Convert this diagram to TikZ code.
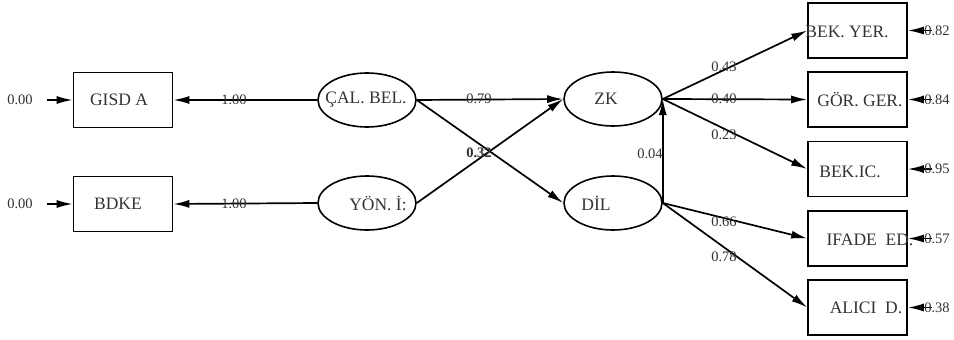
\documentclass[tikz,border=0pt]{standalone}
\usepackage{fontspec}
\setmainfont{Liberation Serif}
\usetikzlibrary{arrows.meta,shapes.geometric}
\definecolor{txt}{RGB}{50,50,50}
\tikzset{
  obs/.style={draw, line width=1.6pt, minimum width=99pt, minimum height=55pt, inner sep=0pt},
  lat/.style={draw, ellipse, line width=1.6pt, minimum width=98pt, minimum height=54pt, inner sep=0pt},
  vname/.style={text=txt, font=\fontsize{17.5}{17.5}\selectfont, inner sep=0pt},
  coef/.style={text=txt, font=\fontsize{14.5}{14.5}\selectfont, inner sep=0pt},
  pathline/.style={line width=1.7pt, -{Latex[length=16pt,width=8pt]}},
  errline/.style={line width=1.7pt, -{Latex[length=16pt,width=8pt]}}
}
\begin{document}
\begin{tikzpicture}[x=1pt,y=-1pt]
\useasboundingbox (0,0) rectangle (954,340);

% observed variables on the left
\node[obs] (gisd) at (123,100) {};
\node[obs] (bdke) at (123,204) {};
\node[vname] at (119,100) {GISD A};
\node[vname] at (118,204) {BDKE};

% latent variables
\node[lat] (cal) at (367,100) {};
\node[lat] (yon) at (367,203) {};
\node[lat] (zk)  at (613,99) {};
\node[lat] (dil) at (613,203) {};
\node[vname] at (366,100) {ÇAL. BEL.};
\node[vname] at (378,203) {YÖN. İ:};
\node[vname] at (606,99) {ZK};
\node[vname] at (596,203) {DİL};

% observed variables on the right
\node[obs] (bek)   at (857.5,30.5)  {};
\node[obs] (gor)   at (857.5,99.5)  {};
\node[obs] (bekic) at (857.5,169)   {};
\node[obs] (ifade) at (857.5,238.5) {};
\node[obs] (alici) at (857.5,307.5) {};
\node[vname] at (847,32)  {BEK. YER.};
\node[vname] at (860,100) {GÖR. GER.};
\node[vname] at (850,172) {BEK.IC.};
\node[vname] at (870,240) {IFADE\ \ ED.};
\node[vname] at (866,308) {ALICI\ \ D.};

% error terms on the left
\coordinate (eg) at (47,100);
\coordinate (eb) at (47,204);
\node[coef] at (20,100) {0.00};
\node[coef] at (20,204) {0.00};
\draw[errline] (eg) -- (gisd.west);
\draw[errline] (eb) -- (bdke.west);

% loadings of the exogenous factors
\draw[pathline] (cal.west) -- (gisd.east);
\draw[pathline] (yon.west) -- (bdke.east);
\node[coef] at (234,100) {1.00};
\node[coef] at (234,204) {1.00};

% structural paths
\draw[pathline] (cal.east) -- (zk.west);
\draw[pathline] (cal.east) -- (dil.west);
\draw[pathline] (yon.east) -- (zk.west);
\draw[pathline] (dil.east) -- (zk.east);
\node[coef] at (479,99) {0.79};
\node[coef, font=\fontsize{14.5}{14.5}\selectfont\bfseries] at (479,153) {0.32};
\node[coef] at (650,154) {0.04};

% loadings of the endogenous factors
\draw[pathline] (zk.east) -- (bek.west);
\draw[pathline] (zk.east) -- (gor.west);
\draw[pathline] (zk.east) -- (bekic.west);
\draw[pathline] (dil.east) -- (ifade.west);
\draw[pathline] (dil.east) -- (alici.west);
\node[coef] at (724,67)  {0.43};
\node[coef] at (724,99)  {0.40};
\node[coef] at (724,135) {0.23};
\node[coef] at (724,222) {0.66};
\node[coef] at (724,257) {0.78};

% error terms on the right
\coordinate (r1) at (932,30.5);
\coordinate (r2) at (932,99.5);
\coordinate (r3) at (932,169);
\coordinate (r4) at (932,238.5);
\coordinate (r5) at (932,307.5);
\draw[errline] (r1) -- (bek.east);
\draw[errline] (r2) -- (gor.east);
\draw[errline] (r3) -- (bekic.east);
\draw[errline] (r4) -- (ifade.east);
\draw[errline] (r5) -- (alici.east);
\node[coef] at (937,30.5)  {0.82};
\node[coef] at (937,99.5)  {0.84};
\node[coef] at (937,169)   {0.95};
\node[coef] at (937,238.5) {0.57};
\node[coef] at (937,307.5) {0.38};
\end{tikzpicture}
\end{document}
